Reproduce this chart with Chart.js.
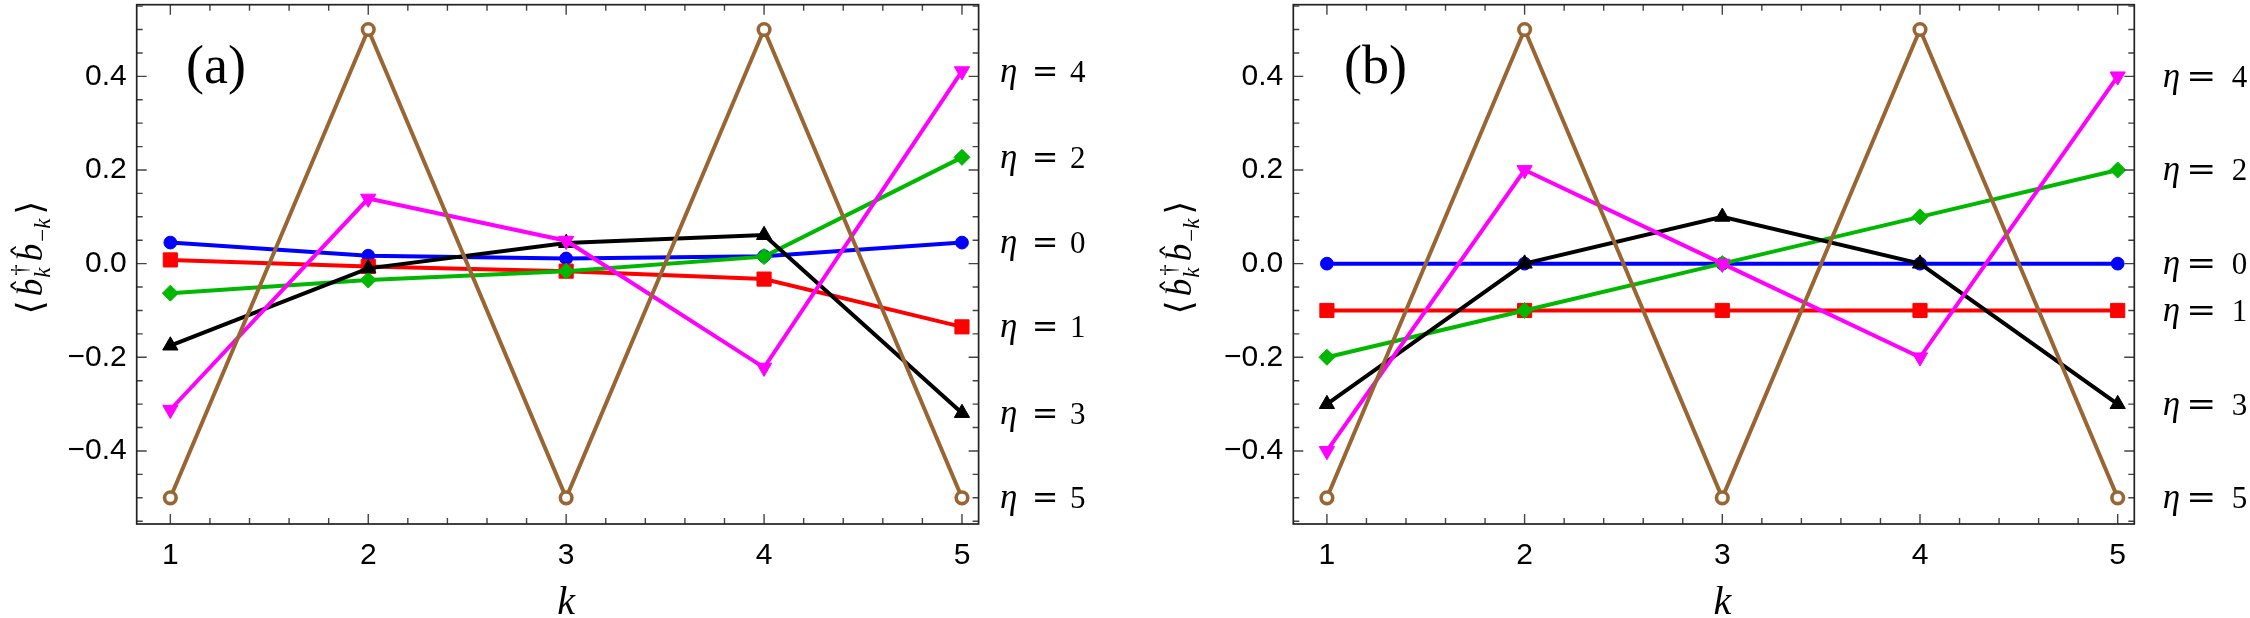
<!DOCTYPE html>
<html><head><meta charset="utf-8">
<script src="https://cdn.jsdelivr.net/npm/chart.js@4.4.1/dist/chart.umd.min.js"></script>
<style>
html,body{margin:0;padding:0;background:#fff;overflow:hidden}
#wrap{position:relative;width:2250px;height:618px;background:#fff}
canvas{position:absolute;top:0}
#cA{left:0}
#cB{left:1125px}
</style></head><body>
<div id="wrap"><canvas id="cA" width="1125" height="618"></canvas><canvas id="cB" width="1125" height="618"></canvas></div>
<script>
// ---------- data ----------
const kValues = [1, 2, 3, 4, 5];
const etaLabels = ['0', '1', '2', '3', '4', '5'];
const xTicks = [1, 2, 3, 4, 5];
const yTicks = [-0.4, -0.2, 0, 0.2, 0.4];
const xRange = [0.83, 5.084];
const yRange = [-0.556, 0.553];

// panel (a)
const eta0A = [0.045, 0.017, 0.011, 0.016, 0.045];
const eta1A = [0.008, -0.006, -0.016, -0.033, -0.135];
const eta2A = [-0.063, -0.035, -0.016, 0.015, 0.227];
const eta3A = [-0.175, -0.010, 0.044, 0.061, -0.319];
const eta4A = [-0.312, 0.139, 0.049, -0.222, 0.411];
const eta5A = [-0.5, 0.5, -0.5, 0.5, -0.5];
// panel (b)
const eta0B = [0, 0, 0, 0, 0];
const eta1B = [-0.1, -0.1, -0.1, -0.1, -0.1];
const eta2B = [-0.2, -0.1, 0, 0.1, 0.2];
const eta3B = [-0.3, 0, 0.1, 0, -0.3];
const eta4B = [-0.4, 0.2, 0, -0.2, 0.4];
const eta5B = [-0.5, 0.5, -0.5, 0.5, -0.5];

const seriesA = [eta0A, eta1A, eta2A, eta3A, eta4A, eta5A];
const seriesB = [eta0B, eta1B, eta2B, eta3B, eta4B, eta5B];

// ---------- styles ----------
const styles = [
  {color: '#0000ff', pointStyle: 'circle',   radius: 6.4, rotation: 0,   hollow: false},
  {color: '#ff0000', pointStyle: 'rect',     radius: 10,  rotation: 0,   hollow: false},
  {color: '#00b800', pointStyle: 'rectRot',  radius: 8.0, rotation: 0,   hollow: false},
  {color: '#000000', pointStyle: 'triangle', radius: 8.8, rotation: 0,   hollow: false},
  {color: '#ff00ff', pointStyle: 'triangle', radius: 8.8, rotation: 180, hollow: false},
  {color: '#996633', pointStyle: 'circle',   radius: 5.8, rotation: 0,   hollow: true}
];

const panels = [
  {canvas: 'cA', series: seriesA, tag: '(a)', left: 136.7, right: 978.6, titleX: 42, tagX: 49.3, eqOff: [21.3, 53.1, 91.4], eqW: 26.7},
  {canvas: 'cB', series: seriesB, tag: '(b)', left: 168.3, right: 1009.3, titleX: 66, tagX: 50.7, eqOff: [28.4, 52, 97.4], eqW: 30}
];

function fmtY(v) {
  if (Math.abs(v) < 1e-9) return '0.0';
  const s = Math.abs(v).toFixed(1);
  return v < 0 ? '\u2212' + s : s;
}

function makeDatasets(series) {
  return series.map((vals, i) => ({
    label: '\u03B7 = ' + etaLabels[i],
    data: kValues.map((k, j) => ({x: k, y: vals[j]})),
    borderColor: styles[i].color,
    backgroundColor: styles[i].color,
    borderWidth: 4.0,
    pointStyle: styles[i].pointStyle,
    pointRadius: styles[i].radius,
    pointHoverRadius: styles[i].radius,
    pointRotation: styles[i].rotation,
    pointBackgroundColor: styles[i].hollow ? '#ffffff' : styles[i].color,
    pointBorderColor: styles[i].color,
    pointBorderWidth: styles[i].hollow ? 3.6 : 1,
    tension: 0,
    fill: false,
    clip: false,
    order: 5 - i
  }));
}

const framePlugin = {
  id: 'frameTicks',
  afterDatasetsDraw(chart) {
    const {ctx, chartArea: a, scales} = chart;
    const x = scales.x, y = scales.y;
    ctx.save();
    ctx.strokeStyle = '#444';
    ctx.lineWidth = 1.4;
    ctx.beginPath();
    for (let i = 0; i <= 30; i++) {
      const v = i / 5;
      if (v < xRange[0] || v > xRange[1]) continue;
      const px = x.getPixelForValue(v);
      const len = (i % 5 === 0) ? 10 : 6;
      ctx.moveTo(px, a.bottom); ctx.lineTo(px, a.bottom - len);
      ctx.moveTo(px, a.top); ctx.lineTo(px, a.top + len);
    }
    for (let i = -12; i <= 12; i++) {
      const v = i * 0.05;
      if (v < yRange[0] || v > yRange[1]) continue;
      const py = y.getPixelForValue(v);
      const len = (i % 4 === 0) ? 10 : 6;
      ctx.moveTo(a.left, py); ctx.lineTo(a.left + len, py);
      ctx.moveTo(a.right, py); ctx.lineTo(a.right - len, py);
    }
    ctx.stroke();
    ctx.strokeStyle = '#222';
    ctx.lineWidth = 1.7;
    ctx.strokeRect(a.left, a.top, a.right - a.left, a.bottom - a.top);
    ctx.restore();
  }
};

function drawYTitle(ctx, bx, cy) {
  const mainI = 'italic 35px "Liberation Serif"';
  const brk = '36px "DejaVu Serif", "DejaVu Sans"';
  const subI = 'italic 23px "Liberation Serif"';
  const subU = '23px "Liberation Serif"';
  const hatF = '30px "DejaVu Serif"';
  const items = [];
  let cx = 0;
  function add(t, f, dy) {
    ctx.font = f;
    const w = ctx.measureText(t).width;
    items.push({t, f, x: cx, y: dy});
    cx += w;
    return w;
  }
  add('\u27E8', brk, 0); cx += 4;
  let b1 = cx; let wb = add('b', mainI, 0);
  items.push({t: '\u02C6', f: hatF, x: b1 + wb * 0.6, y: -8, c: true});
  cx += 1;
  ctx.font = subU; const wd = ctx.measureText('\u2020').width;
  ctx.font = subI; const wk = ctx.measureText('k').width;
  items.push({t: '\u2020', f: subU, x: cx + 2, y: -15});
  items.push({t: 'k', f: subI, x: cx, y: 8});
  cx += Math.max(wd + 2, wk) + 3;
  let b2 = cx; wb = add('b', mainI, 0);
  items.push({t: '\u02C6', f: hatF, x: b2 + wb * 0.6, y: -8, c: true});
  cx += 2;
  add('\u2212', subU, 8);
  add('k', subI, 8);
  cx += 4;
  add('\u27E9', brk, 0);
  const total = cx;
  ctx.save();
  ctx.translate(bx, cy);
  ctx.rotate(-Math.PI / 2);
  ctx.fillStyle = '#000';
  ctx.textBaseline = 'alphabetic';
  for (const it of items) {
    ctx.font = it.f;
    ctx.textAlign = it.c ? 'center' : 'left';
    ctx.fillText(it.t, it.x - total / 2, it.y);
  }
  ctx.restore();
}

function makeTextPlugin(p, series) {
  return {
    id: 'texts',
    afterDraw(chart) {
      const {ctx, chartArea: a, scales} = chart;
      const x = scales.x, y = scales.y;
      ctx.save();
      ctx.fillStyle = '#000';
      // panel tag
      ctx.font = '54px "Liberation Serif"';
      ctx.textAlign = 'left';
      ctx.textBaseline = 'alphabetic';
      ctx.fillText(p.tag, a.left + p.tagX, 83);
      // x title
      ctx.font = 'italic 40px "Liberation Serif"';
      ctx.textAlign = 'center';
      ctx.fillText('k', x.getPixelForValue(3), 614);
      // y title
      drawYTitle(ctx, p.titleX, 257.5);
      // eta labels
      ctx.textAlign = 'left';
      ctx.font = '31px "Liberation Serif"';
      const half = ctx.measureText('0').actualBoundingBoxAscent / 2;
      series.forEach((vals, i) => {
        const py = y.getPixelForValue(vals[vals.length - 1]);
        const base = py + half;
        ctx.font = 'italic 35px "Liberation Serif"';
        ctx.fillText('\u03B7', a.right + p.eqOff[0], base);
        ctx.font = '31px "DejaVu Serif"';
        const m = ctx.measureText('=');
        const eqBase = py + (m.actualBoundingBoxAscent - m.actualBoundingBoxDescent) / 2;
        ctx.save();
        ctx.translate(a.right + p.eqOff[1], eqBase);
        ctx.scale(p.eqW / m.width, 1);
        ctx.fillText('=', 0, 0);
        ctx.restore();
        ctx.font = '31px "Liberation Serif"';
        ctx.fillText(etaLabels[i], a.right + p.eqOff[2], base);
      });
      ctx.restore();
    }
  };
}

panels.forEach(p => {
  const el = document.getElementById(p.canvas);
  new Chart(el, {
    type: 'line',
    data: {datasets: makeDatasets(p.series)},
    options: {
      responsive: false,
      animation: false,
      devicePixelRatio: 1,
      events: [],
      layout: {autoPadding: false, padding: {left: 0, right: 1125 - p.right, top: 4.7, bottom: 0}},
      plugins: {legend: {display: false}, tooltip: {enabled: false}},
      scales: {
        x: {
          type: 'linear', min: xRange[0], max: xRange[1],
          afterBuildTicks: s => { s.ticks = xTicks.map(v => ({value: v})); },
          afterFit: s => { s.height = 618 - 524; s.paddingLeft = 0; s.paddingRight = 0; },
          grid: {display: false, drawTicks: false}, border: {display: false},
          ticks: {font: {family: 'Liberation Sans', size: 30}, color: '#000', padding: 14,
                  maxRotation: 0, autoSkip: false, callback: v => String(v)}
        },
        y: {
          type: 'linear', min: yRange[0], max: yRange[1],
          afterBuildTicks: s => { s.ticks = yTicks.map(v => ({value: v})); },
          afterFit: s => { s.width = p.left; s.paddingTop = 0; s.paddingBottom = 0; },
          grid: {display: false, drawTicks: false}, border: {display: false},
          ticks: {font: {family: 'Liberation Sans', size: 30}, color: '#000', padding: 10,
                  autoSkip: false, callback: v => fmtY(v)}
        }
      }
    },
    plugins: [framePlugin, makeTextPlugin(p, p.series)]
  });
});
</script>
</body></html>
